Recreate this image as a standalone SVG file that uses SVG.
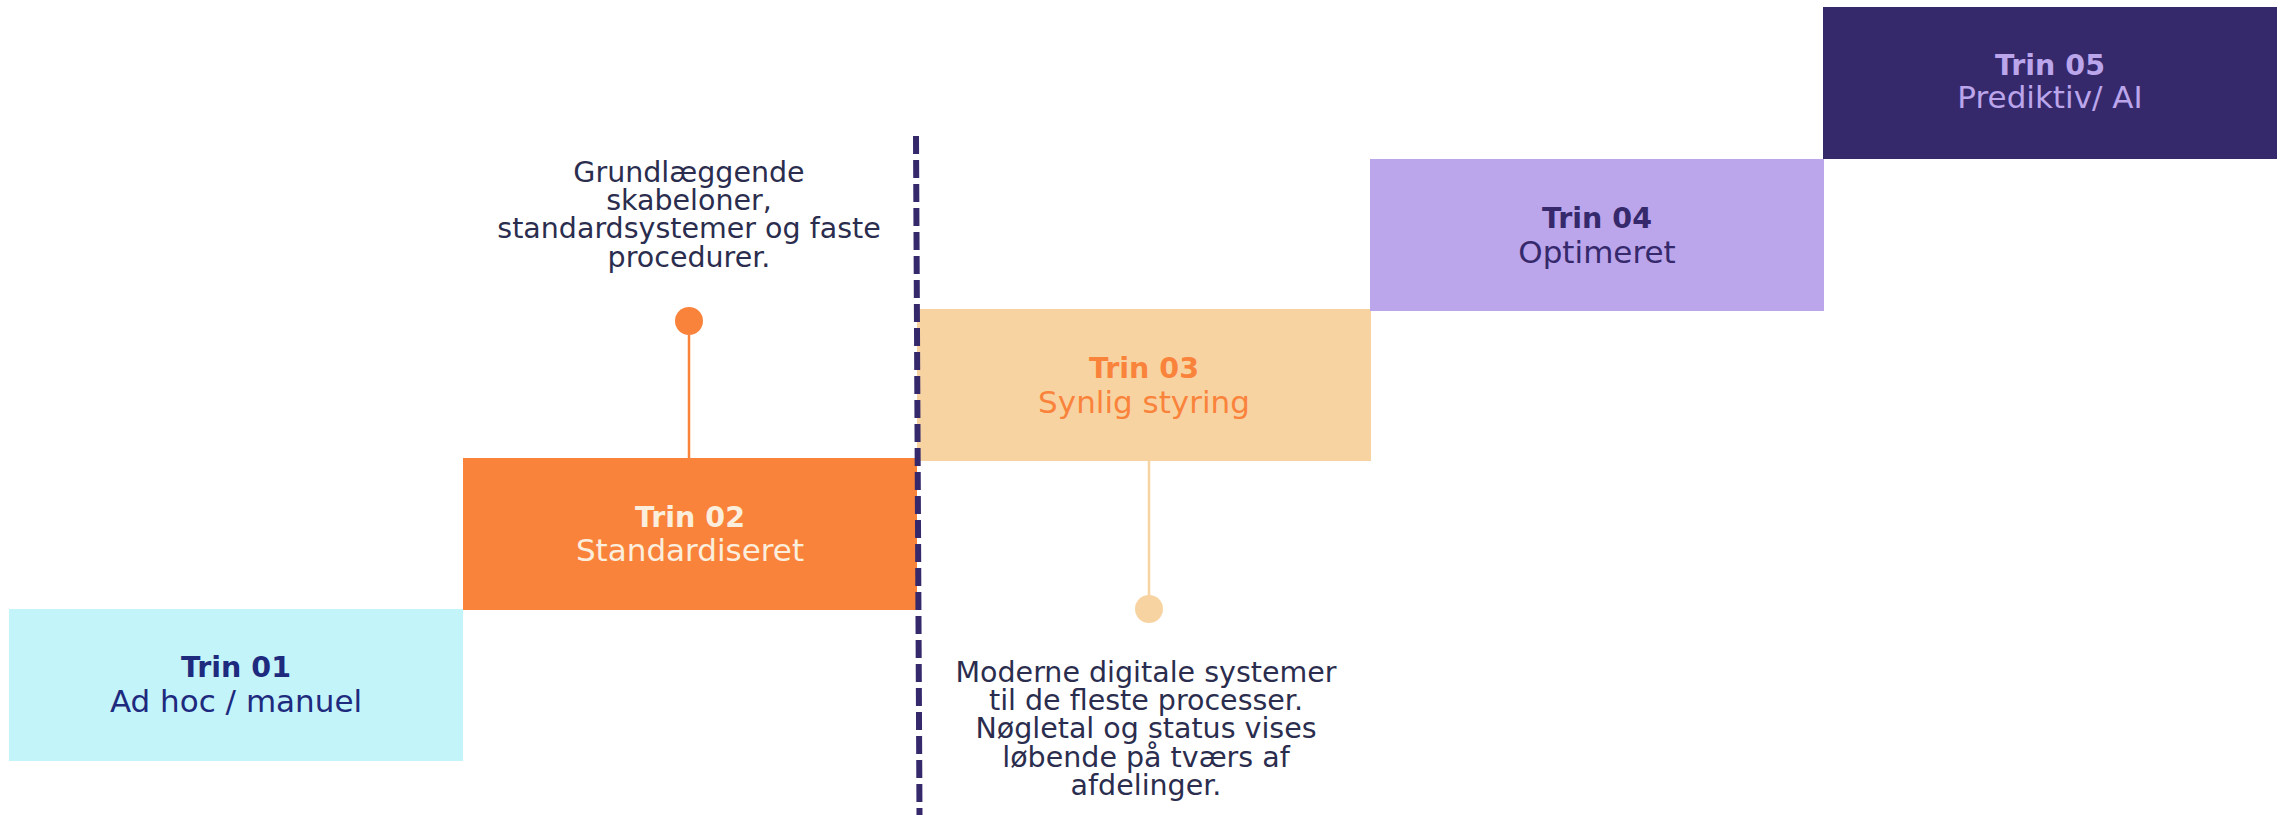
<svg xmlns="http://www.w3.org/2000/svg" width="2287" height="815" viewBox="0 0 2287 815">
<style>
  .title { font-family: "DejaVu Sans", "Liberation Sans", sans-serif; font-weight: bold; font-size: 28.5px; text-anchor: middle; }
  .sub { font-family: "DejaVu Sans", "Liberation Sans", sans-serif; font-size: 31px; text-anchor: middle; }
  .desc { font-family: "DejaVu Sans", "Liberation Sans", sans-serif; font-size: 28.5px; text-anchor: middle; fill: #2B2D4E; }
</style>
<rect width="2287" height="815" fill="#FFFFFF"/>
<g id="trin01">
  <rect x="9" y="609" width="454" height="152" fill="#C3F4F9"/>
  <text class="title" x="236" y="677" fill="#1E2A7E">Trin 01</text>
  <text class="sub" x="236" y="712" fill="#1E2A7E">Ad hoc / manuel</text>
</g>
<g id="trin02">
  <rect x="463" y="458" width="454" height="152" fill="#FA833C"/>
  <text class="title" x="690" y="527" fill="#FBEEDD">Trin 02</text>
  <text class="sub" x="690" y="561" fill="#FBEEDD">Standardiseret</text>
</g>
<g id="trin03">
  <rect x="917" y="309" width="454" height="152" fill="#F8D3A2"/>
  <text class="title" x="1144" y="378" fill="#FA833C">Trin 03</text>
  <text class="sub" x="1144" y="413" fill="#FA833C">Synlig styring</text>
</g>
<g id="trin04">
  <rect x="1370" y="159" width="454" height="152" fill="#BBA5EB"/>
  <text class="title" x="1597" y="228" fill="#35296B">Trin 04</text>
  <text class="sub" x="1597" y="263" fill="#35296B">Optimeret</text>
</g>
<g id="trin05">
  <rect x="1823" y="7" width="454" height="152" fill="#35296B"/>
  <text class="title" x="2050" y="75" fill="#BBA5EB">Trin 05</text>
  <text class="sub" x="2050" y="108" fill="#BBA5EB">Prediktiv/ AI</text>
</g>
<g id="note02">
  <text class="desc" x="689" y="182">Grundlæggende</text>
  <text class="desc" x="689" y="210">skabeloner,</text>
  <text class="desc" x="689" y="238">standardsystemer og faste</text>
  <text class="desc" x="689" y="267">procedurer.</text>
</g>
<g id="note03">
  <text class="desc" x="1146" y="682">Moderne digitale systemer</text>
  <text class="desc" x="1146" y="710">til de fleste processer.</text>
  <text class="desc" x="1146" y="738">Nøgletal og status vises</text>
  <text class="desc" x="1146" y="767">løbende på tværs af</text>
  <text class="desc" x="1146" y="795">afdelinger.</text>
</g>
<g id="connectors">
  <line x1="689" y1="335" x2="689" y2="458" stroke="#FA833C" stroke-width="2.5"/>
  <circle cx="689" cy="321" r="14" fill="#FA833C"/>
  <line x1="1149" y1="461" x2="1149" y2="596" stroke="#F8D3A2" stroke-width="2.5"/>
  <circle cx="1149" cy="609" r="14" fill="#F8D3A2"/>
  <line x1="916" y1="136" x2="919.5" y2="815" stroke="#35296B" stroke-width="6" stroke-dasharray="18 6"/>
</g>
</svg>
